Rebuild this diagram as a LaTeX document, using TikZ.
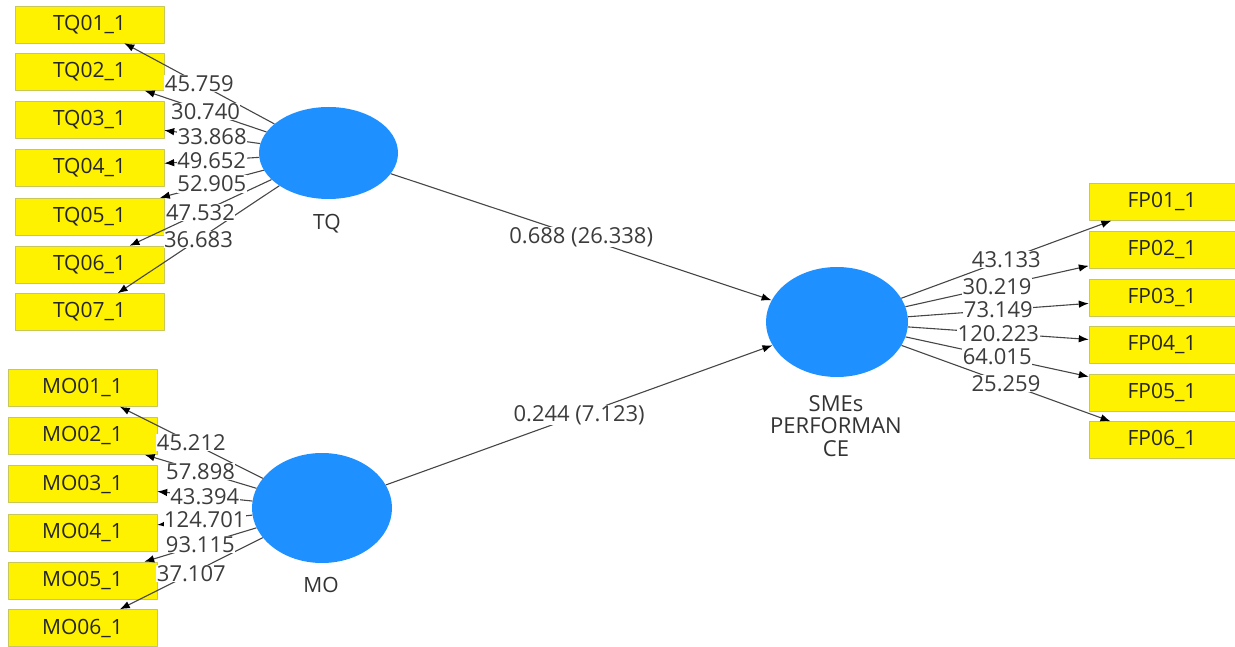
\documentclass[tikz,border=0pt]{standalone}
\usepackage{fontspec}
\setmainfont{Open Sans}
\usetikzlibrary{arrows.meta,shapes.geometric}
\definecolor{dodger}{RGB}{30,144,255}
\definecolor{linegray}{RGB}{70,70,70}
\definecolor{numtext}{RGB}{60,60,60}
\definecolor{boxedge}{RGB}{200,200,90}
\begin{document}
\begin{tikzpicture}[x=1pt,y=-1pt,>={Latex[length=10pt,width=7.5pt,color=black]},line join=round,
	indic/.style={draw=boxedge,fill=yellow,minimum width=149pt,minimum height=37pt,inner sep=0pt,text=black!85,font=\fontsize{21}{23}\selectfont},
	latent/.style={ellipse,fill=dodger,inner sep=0pt},
	lvname/.style={text=black!80,font=\fontsize{21}{23}\selectfont},
	lbl/.style={fill=white,inner sep=0.5pt,text=numtext,font=\fontsize{22}{24}\selectfont},
	link/.style={->,draw=linegray,line width=1.1pt}]
	\useasboundingbox (0,0) rectangle (1235,647);
	% constructs
	\node[latent,minimum width=139pt,minimum height=92pt] (TQ) at (328.5,153) {};
	\node[latent,minimum width=140pt,minimum height=110pt] (MO) at (322,508) {};
	\node[latent,minimum width=142pt,minimum height=110pt] (SME) at (837,322) {};
	\node[lvname] (TQn) at (327,224) {TQ};
	\node[lvname] (MOn) at (321,585) {MO};
	\node[lvname,align=center,font=\fontsize{22}{22.5}\selectfont] (SMEn) at (836,426) {SMEs\\PERFORMAN\\CE};
	% indicators
	\foreach \i/\y in {1/24.5,2/72,3/120,4/168,5/216.5,6/264.5,7/312}
	\node[indic] (TQ\i) at (89.5,\y) {TQ0\i\_1};
	\foreach \i/\y in {1/388,2/436,3/484,4/532.5,5/580.5,6/628}
	\node[indic] (MO\i) at (82.5,\y) {MO0\i\_1};
	\foreach \i/\y in {1/202,2/249.5,3/298,4/344.5,5/392.5,6/440}
	\node[indic,minimum width=146pt] (FP\i) at (1162,\y) {FP0\i\_1};
	% loadings and paths
	\foreach \i in {1,...,7}
	\draw[link] (TQ) -- coordinate (mTQ\i) (TQ\i);
	\foreach \i in {1,...,6}
	\draw[link] (MO) -- coordinate (mMO\i) (MO\i);
	\foreach \i in {1,...,6}
	\draw[link] (SME) -- coordinate (mFP\i) (FP\i);
	\draw[link] (TQ) -- coordinate (mTS) (SME);
	\draw[link] (MO) -- coordinate (mMS) (SME);
	% t values
	\foreach \i/\v in {1/45.759,2/30.740,3/33.868,4/49.652,5/52.905,6/47.532,7/36.683}
	\node[lbl] (lTQ\i) at (mTQ\i) {\v};
	\foreach \i/\v in {1/45.212,2/57.898,3/43.394,4/124.701,5/93.115,6/37.107}
	\node[lbl] (lMO\i) at (mMO\i) {\v};
	\foreach \i/\v in {1/43.133,2/30.219,3/73.149,4/120.223,5/64.015,6/25.259}
	\node[lbl] (lFP\i) at (mFP\i) {\v};
	\node[lbl] (lTS) at (mTS) {0.688 (26.338)};
	\node[lbl] (lMS) at (mMS) {0.244 (7.123)};
\end{tikzpicture}
\end{document}
